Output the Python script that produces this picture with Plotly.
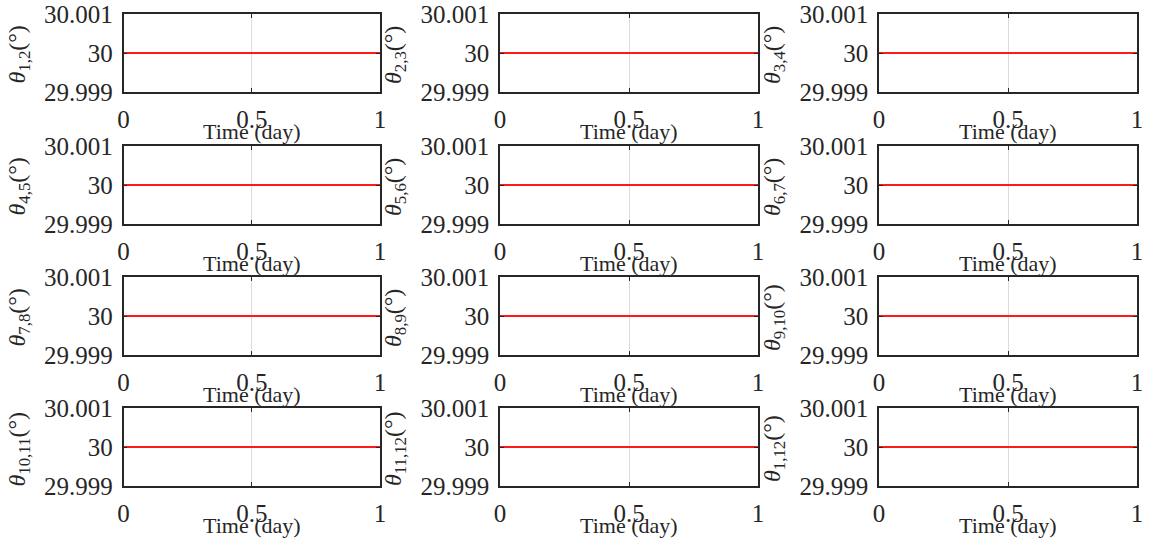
import plotly.graph_objects as go

# Simulation time axis (days)
time_day = [0.0, 1.0]

# Angle between adjacent units over the day (degrees)
theta_1_2 = [30.0, 30.0]
theta_2_3 = [30.0, 30.0]
theta_3_4 = [30.0, 30.0]
theta_4_5 = [30.0, 30.0]
theta_5_6 = [30.0, 30.0]
theta_6_7 = [30.0, 30.0]
theta_7_8 = [30.0, 30.0]
theta_8_9 = [30.0, 30.0]
theta_9_10 = [30.0, 30.0]
theta_10_11 = [30.0, 30.0]
theta_11_12 = [30.0, 30.0]
theta_1_12 = [30.0, 30.0]

pair_labels = ["1,2", "2,3", "3,4", "4,5", "5,6", "6,7",
               "7,8", "8,9", "9,10", "10,11", "11,12", "1,12"]
series = [theta_1_2, theta_2_3, theta_3_4, theta_4_5, theta_5_6, theta_6_7,
          theta_7_8, theta_8_9, theta_9_10, theta_10_11, theta_11_12, theta_1_12]

x_ticks = [0, 0.5, 1]
x_tick_text = ["0", "0.5", "1"]
y_ticks = [29.999, 30.0, 30.001]
y_tick_text = ["29.999", "30", "30.001"]

W, H = 1149, 546
# panel pixel boxes: columns (left, right), rows (top, bottom)
cols_px = [(123.5, 380), (500, 758), (879, 1137)]
rows_px = [(14, 92), (146, 224), (277, 355), (408, 486)]

FONT = "Liberation Serif"
INK = "#262626"

fig = go.Figure()
annotations = []
layout = {}

for i, (vals, lab) in enumerate(zip(series, pair_labels)):
    r, c = divmod(i, 3)
    n = i + 1
    xa = "xaxis" if n == 1 else f"xaxis{n}"
    ya = "yaxis" if n == 1 else f"yaxis{n}"
    xr = "x" if n == 1 else f"x{n}"
    yr = "y" if n == 1 else f"y{n}"

    fig.add_trace(go.Scatter(x=time_day, y=vals, mode="lines",
                             line=dict(color="#ff1a1a", width=2),
                             xaxis=xr, yaxis=yr, showlegend=False,
                             hoverinfo="skip"))

    x0, x1 = cols_px[c]
    t, b = rows_px[r]
    common = dict(ticks="inside", ticklen=4, tickcolor=INK,
                  showline=True, mirror="ticks", linecolor=INK, linewidth=1.5,
                  showgrid=True, gridcolor="#dcdcdc", gridwidth=1,
                  zeroline=False, automargin=False, ticklabelstandoff=4,
                  tickfont=dict(family=FONT, size=25, color=INK))
    layout[xa] = dict(domain=[x0 / W, x1 / W], anchor=yr, range=[0, 1],
                      tickvals=x_ticks, ticktext=x_tick_text, **common)
    layout[ya] = dict(domain=[1 - b / H, 1 - t / H], anchor=xr,
                      range=[29.999, 30.001],
                      tickvals=y_ticks, ticktext=y_tick_text, **common)

    annotations.append(dict(text="Time (day)", xref=f"{xr} domain", yref=f"{yr} domain",
                            x=0.5, y=0, xanchor="center", yanchor="middle",
                            yshift=-39, showarrow=False,
                            font=dict(family=FONT, size=22, color=INK)))
    annotations.append(dict(text=f"<i>θ</i><sub>{lab}</sub>(°)",
                            xref=f"{xr} domain", yref=f"{yr} domain",
                            x=0, y=0.5, xanchor="center", yanchor="middle",
                            xshift=-105, yshift=-2, textangle=-90, showarrow=False,
                            font=dict(family=FONT, size=24, color=INK)))

fig.update_layout(template="none", width=W, height=H,
                  font=dict(family=FONT, color=INK),
                  margin=dict(l=0, r=0, t=0, b=0, autoexpand=False),
                  paper_bgcolor="white", plot_bgcolor="white",
                  annotations=annotations, **layout)

fig.write_html("out.html")
